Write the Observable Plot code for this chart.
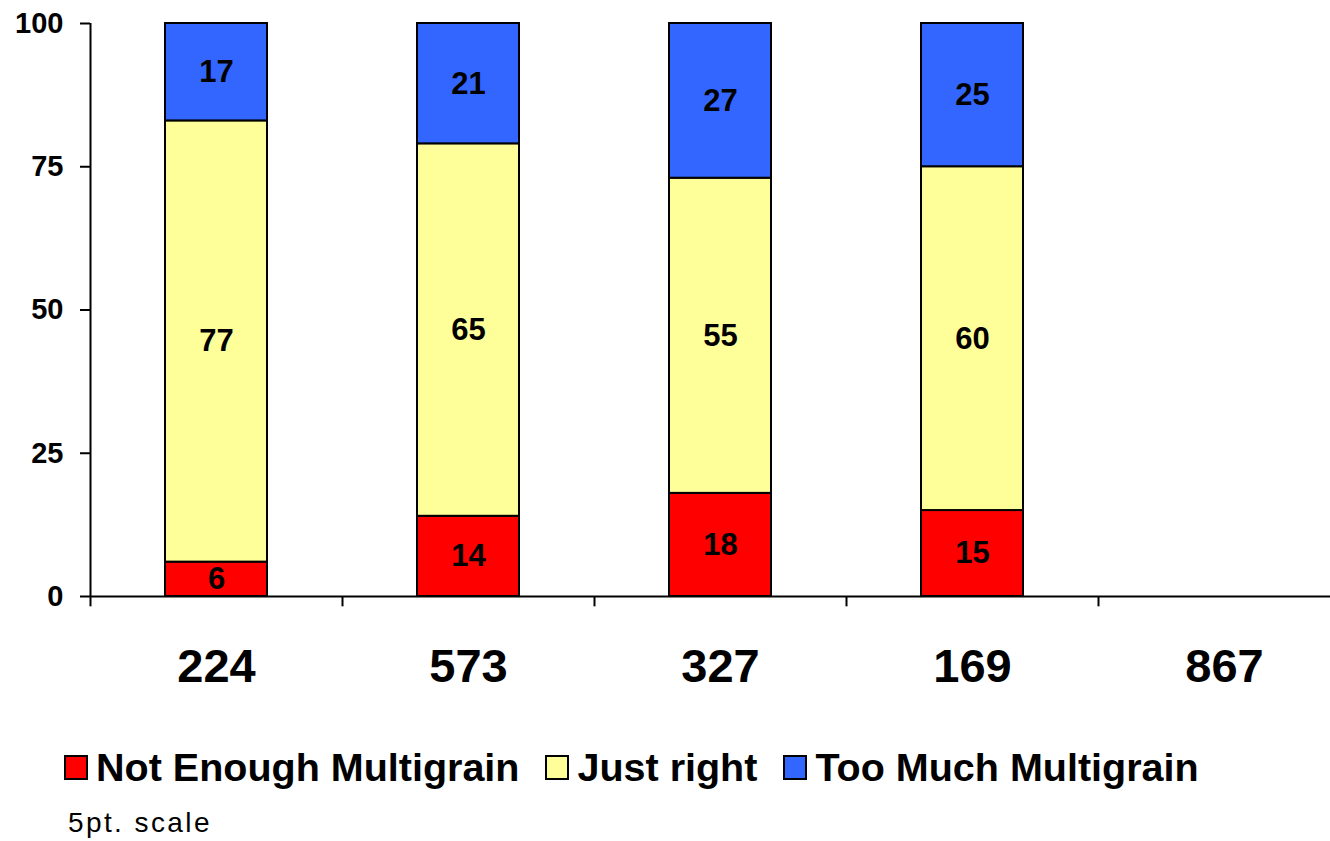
<!DOCTYPE html>
<html>
<head>
<meta charset="utf-8">
<script src="https://cdn.jsdelivr.net/npm/d3@7"></script>
<script src="https://cdn.jsdelivr.net/npm/@observablehq/plot@0.6"></script>
<style>
  html, body { margin: 0; padding: 0; background: #fff; width: 1330px; overflow: hidden; }
  body { font-family: "Liberation Sans", Arial, sans-serif; }
  svg { display: block; }
  #legend { display: flex; align-items: center; height: 40px; margin-top: 47px; padding-left: 64px; font-weight: bold; font-size: 39.5px; color: #000; }
  .item { display: flex; align-items: center; margin-right: 26px; white-space: nowrap; }
  .sw { width: 24px; height: 25px; border: 2px solid #000; margin-right: 8px; box-sizing: border-box; }
  #caption { margin-top: 21px; padding-left: 68px; font-size: 28px; line-height: 30px; letter-spacing: 2.4px; color: #000; }
</style>
</head>
<body>
<script>
const categories = ["224", "573", "327", "169", "867"];
const series = ["Not Enough Multigrain", "Just right", "Too Much Multigrain"];
const colors = ["#FF0000", "#FFFF99", "#3366FF"];
const notEnough = [6, 14, 18, 15, null];
const justRight = [77, 65, 55, 60, null];
const tooMuch = [17, 21, 27, 25, null];
const yTicks = [0, 25, 50, 75, 100];

const values = [notEnough, justRight, tooMuch];
const data = [];
categories.forEach((c, i) => {
  series.forEach((s, j) => {
    if (values[j][i] != null) data.push({category: c, series: s, value: values[j][i]});
  });
});

const width = 1330, marginLeft = 90;
const xRange = [90, 1350];
const band = (xRange[1] - xRange[0]) / categories.length;
const half = -band / 2;
const font = '"Liberation Sans", Arial, sans-serif';

const plot = Plot.plot({
  width,
  height: 700,
  marginLeft,
  marginRight: 0,
  marginTop: 23,
  marginBottom: 104,
  style: {fontFamily: font, color: "#000", background: "#fff", overflow: "visible"},
  x: {type: "band", domain: categories, range: xRange, paddingInner: 0, paddingOuter: 0, label: null},
  y: {domain: [0, 100], label: null},
  color: {domain: series, range: colors},
  marks: [
    Plot.barY(data, Plot.stackY({
      x: "category", y: "value", fill: "series", z: "series", order: series,
      stroke: "#000", strokeWidth: 2, insetLeft: 75, insetRight: 75
    })),
    Plot.text(data, Plot.stackY({
      x: "category", y: "value", z: "series", text: d => String(d.value), order: series,
      fontSize: 31, fontWeight: "bold", fill: "#000"
    })),
    Plot.ruleY([0], {stroke: "#000", strokeWidth: 2}),
    Plot.ruleX([categories[0]], {x: d => d, y1: 0, y2: 100, dx: half, stroke: "#000", strokeWidth: 2}),
    Plot.ruleX(categories, {x: d => d, y1: 0, y2: -1.8, dx: half, stroke: "#000", strokeWidth: 2}),
    Plot.axisY({ticks: yTicks, tickSize: 10, tickPadding: 17, fontSize: 29, fontWeight: "bold", strokeWidth: 2, tickFormat: d => String(d)}),
    Plot.axisX({tickSize: 0, tickPadding: 52, fontSize: 47, fontWeight: "bold"})
  ]
});
document.body.appendChild(plot);

const legend = document.createElement("div");
legend.id = "legend";
series.forEach((s, j) => {
  const item = document.createElement("div");
  item.className = "item";
  const sw = document.createElement("div");
  sw.className = "sw";
  sw.style.background = colors[j];
  const label = document.createElement("span");
  label.textContent = s;
  item.appendChild(sw);
  item.appendChild(label);
  legend.appendChild(item);
});
document.body.appendChild(legend);

const caption = document.createElement("div");
caption.id = "caption";
caption.textContent = "5pt. scale";
document.body.appendChild(caption);
</script>
</body>
</html>
